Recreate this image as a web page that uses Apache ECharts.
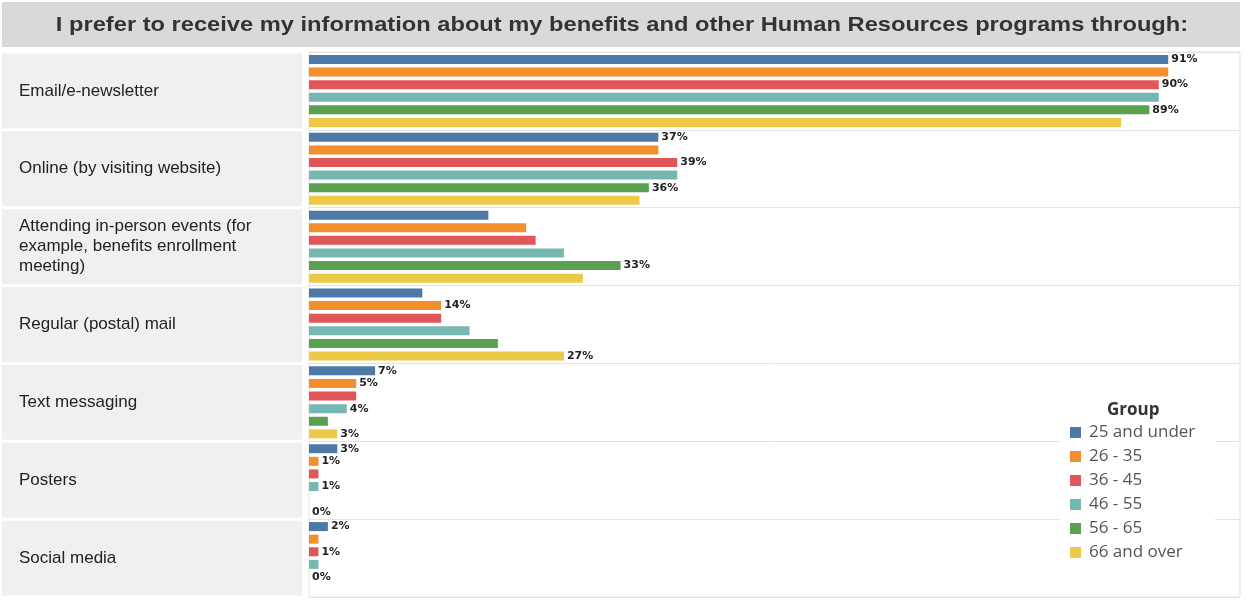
<!DOCTYPE html>
<html>
<head>
<meta charset="utf-8">
<script src="https://cdn.jsdelivr.net/npm/echarts@6/dist/echarts.min.js"></script>
<style>
html,body{margin:0;padding:0;background:#fff;}
#chart{width:1246px;height:600px;}
</style>
</head>
<body>
<div id="chart"></div>
<script>
const titleText = 'I prefer to receive my information about my benefits and other Human Resources programs through:';
const categories = [
  'Email/e-newsletter',
  'Online (by visiting website)',
  'Attending in-person events (for\nexample, benefits enrollment\nmeeting)',
  'Regular (postal) mail',
  'Text messaging',
  'Posters',
  'Social media'
];
const groups = ['25 and under', '26 - 35', '36 - 45', '46 - 55', '56 - 65', '66 and over'];
const colors = ['#4e79a7', '#f28e2b', '#e15759', '#76b7b2', '#59a14f', '#edc948'];

// values per group, in category order
const v25under = [91, 37, 19, 12, 7, 3, 2];
const v26to35  = [91, 37, 23, 14, 5, 1, 1];
const v36to45  = [90, 39, 24, 14, 5, 1, 1];
const v46to55  = [90, 39, 27, 17, 4, 1, 1];
const v56to65  = [89, 36, 33, 20, 2, 0, 0];
const v66over  = [86, 35, 29, 27, 3, 0, null];

// which values carry a visible label (1 = shown)
const lbl25under = [1, 1, 0, 0, 1, 1, 1];
const lbl26to35  = [0, 0, 0, 1, 1, 1, 0];
const lbl36to45  = [1, 1, 0, 0, 0, 0, 1];
const lbl46to55  = [0, 0, 0, 0, 1, 1, 0];
const lbl56to65  = [1, 1, 1, 0, 0, 0, 1];
const lbl66over  = [0, 0, 0, 1, 1, 1, 0];

const values = [v25under, v26to35, v36to45, v46to55, v56to65, v66over];
const labelFlags = [lbl25under, lbl26to35, lbl36to45, lbl46to55, lbl56to65, lbl66over];

const gridLeft = 309, gridTop = 52, gridWidth = 931, gridHeight = 545;
const rowH = gridHeight / categories.length;

const chart = echarts.init(document.getElementById('chart'));

const graphics = [
  { type: 'rect', shape: { x: 2, y: 2, width: 1238, height: 45 }, style: { fill: '#d9d9d9' }, z: -10 },
  {
    type: 'text', x: 622, y: 25, scaleX: 1.127, z: 5,
    style: {
      text: titleText, x: 0, y: 0,
      textAlign: 'center', textVerticalAlign: 'middle', align: 'center', verticalAlign: 'middle',
      font: 'bold 21px "Liberation Sans", Arial, sans-serif', fill: '#333'
    }
  }
];
categories.forEach((c, i) => {
  graphics.push({
    type: 'rect',
    shape: { x: 2, y: gridTop + i * rowH + 1.5, width: 300, height: rowH - 3 },
    style: { fill: '#f0f0f0' }, z: -10
  });
});
graphics.push({
  type: 'rect', shape: { x: 1060, y: 394, width: 155, height: 174 },
  style: { fill: '#ffffff' }, z: 50
});
graphics.push({
  type: 'text', left: 1107, top: 402, z: 51,
  style: { text: 'Group', font: 'bold 17px "Open Sans", sans-serif', fill: '#333' }
});

const series = groups.map((g, si) => ({
  name: g,
  type: 'bar',
  barWidth: 9,
  barGap: '40%',
  itemStyle: { color: colors[si] },
  label: {
    position: 'right',
    distance: 3,
    fontFamily: 'DejaVu Sans',
    fontWeight: 'bold',
    fontSize: 11,
    color: '#222',
    formatter: p => p.value + '%'
  },
  data: values[si].map((v, ci) => ({
    value: v,
    label: { show: labelFlags[si][ci] === 1 && v !== null }
  }))
}));

chart.setOption({
  animation: false,
  backgroundColor: '#fff',
  color: colors,
  graphic: graphics,
  legend: {
    orient: 'vertical',
    left: 1070,
    top: 424,
    padding: 0,
    itemWidth: 11,
    itemHeight: 11,
    itemGap: 7,
    icon: 'rect',
    z: 60,
    textStyle: { fontFamily: '"Open Sans", sans-serif', fontSize: 17, lineHeight: 17, color: '#555', padding: [0, 0, 0, 3] },
    data: groups
  },
  grid: {
    left: gridLeft, top: gridTop, width: gridWidth, height: gridHeight,
    show: true, borderColor: '#e3e3e3', borderWidth: 1
  },
  xAxis: {
    type: 'value', min: 0, max: 98.6,
    axisLine: { show: false }, axisTick: { show: false },
    axisLabel: { show: false }, splitLine: { show: false }
  },
  yAxis: {
    type: 'category',
    inverse: true,
    data: categories,
    axisLine: { show: false },
    axisTick: { show: false },
    splitLine: { show: true, lineStyle: { color: '#e3e3e3', width: 1 } },
    axisLabel: {
      align: 'left',
      margin: gridLeft - 19,
      fontFamily: '"Liberation Sans", Arial, sans-serif',
      fontSize: 17,
      lineHeight: 20,
      color: '#222'
    }
  },
  series: series
});
</script>
</body>
</html>
